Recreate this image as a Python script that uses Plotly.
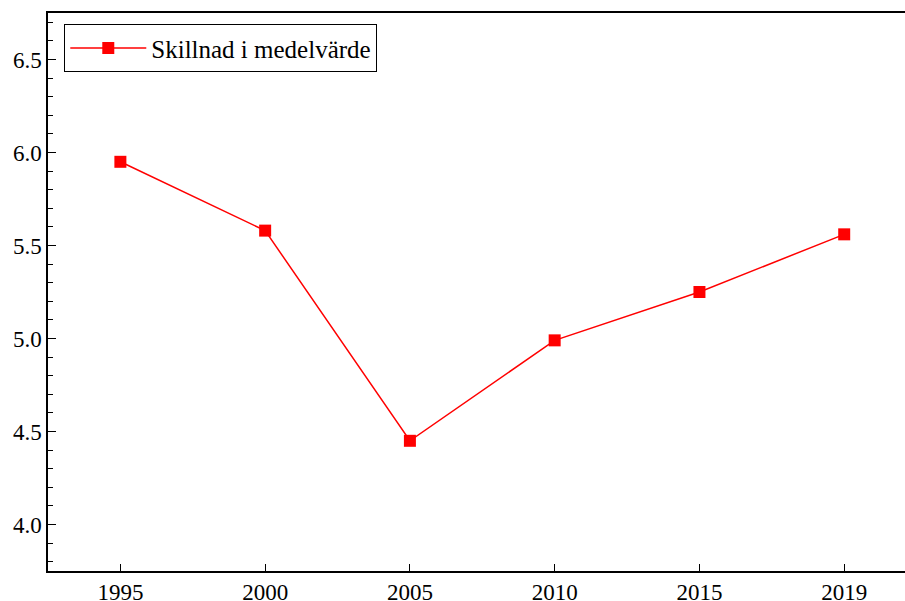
import plotly.graph_objects as go

years = ["1995", "2000", "2005", "2010", "2015", "2019"]
values = [5.95, 5.58, 4.45, 4.99, 5.25, 5.56]
series_name = "Skillnad i medelvärde"

SERIF = "Times New Roman"

fig = go.Figure()
fig.add_trace(go.Scatter(
    x=years, y=values, mode="lines+markers", name=series_name,
    line=dict(color="#ff0000", width=1.5),
    marker=dict(symbol="square", size=12, color="#ff0000"),
    showlegend=True,
))

fig.update_layout(
    width=905, height=601,
    margin=dict(l=48, r=0, t=13, b=30, autoexpand=False),
    paper_bgcolor="white", plot_bgcolor="white",
    font=dict(family=SERIF, size=23, color="black"),
    showlegend=True,
    legend=dict(
        x=0.019, y=0.98, xanchor="left", yanchor="top",
        bordercolor="black", borderwidth=1, bgcolor="white",
        font=dict(family=SERIF, size=25, color="black"),
        itemwidth=76,
    ),
)
fig.update_xaxes(
    type="category", range=[-0.5, 5.42], automargin=False,
    showgrid=False, zeroline=False,
    showline=True, linecolor="black", linewidth=1.5, mirror=True,
    ticks="inside", ticklen=7, tickcolor="black", tickwidth=1,
    tickfont=dict(family=SERIF, size=23, color="black"),
)
fig.update_yaxes(
    range=[3.75, 6.75], dtick=0.5, tick0=4.0, tickformat=".1f", automargin=False,
    showgrid=False, zeroline=False,
    showline=True, linecolor="black", linewidth=1.5, mirror=False,
    ticks="inside", ticklen=8, tickcolor="black", tickwidth=1,
    tickfont=dict(family=SERIF, size=23, color="black"),
    minor=dict(dtick=0.1, tick0=4.0, ticks="inside", ticklen=5, tickcolor="black", showgrid=False),
)

fig.write_html("out.html", config={"displayModeBar": False},
               post_script="document.body.style.margin='0';document.body.style.overflow='hidden';")
